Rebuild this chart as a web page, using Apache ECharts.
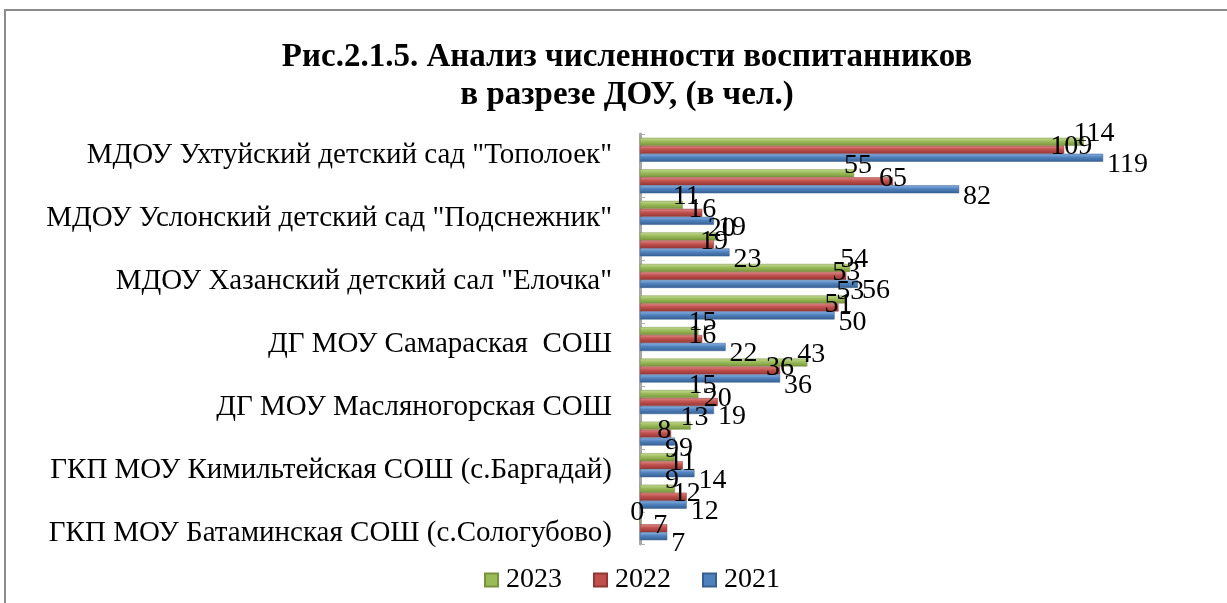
<!DOCTYPE html>
<html><head><meta charset="utf-8">
<script src="https://cdn.jsdelivr.net/npm/echarts@6/dist/echarts.min.js"></script>
<style>html,body{margin:0;padding:0;background:#fff}#c{width:1227px;height:603px}</style>
</head><body><div id="c"></div>
<script>
// categories, top to bottom (every other label is hidden, as in the original)
const categories = [
  'МДОУ Ухтуйский детский сад "Тополоек"', '',
  'МДОУ Услонский детский сад "Подснежник"', '',
  'МДОУ Хазанский детский сал "Елочка"', '',
  'ДГ МОУ Самараская  СОШ', '',
  'ДГ МОУ Масляногорская СОШ', '',
  'ГКП МОУ Кимильтейская СОШ (с.Баргадай)', '',
  'ГКП МОУ Батаминская СОШ (с.Сологубово)'
];
const seriesNames = ['2023', '2022', '2021'];
const v2023 = [114, 55, 11, 20, 54, 53, 15, 43, 15, 13, 9, 9, 0];
const v2022 = [109, 65, 16, 19, 53, 51, 16, 36, 20, 8, 11, 12, 7];
const v2021 = [119, 82, 19, 23, 56, 50, 22, 36, 19, 9, 14, 12, 7];
const titleText = 'Рис.2.1.5. Анализ численности воспитанников\nв разрезе ДОУ, (в чел.)';

const FONT = '"Liberation Serif", "Times New Roman", serif';
const colors = [
  { base: '#9BBB59', light: '#C5DA98', dark: '#77933C' },
  { base: '#C0504D', light: '#DE8A88', dark: '#943634' },
  { base: '#4F81BD', light: '#8DB3E2', dark: '#365F91' }
];
function grad(c) {
  return new echarts.graphic.LinearGradient(0, 0, 0, 1, [
    { offset: 0, color: c.light },
    { offset: 0.45, color: c.base },
    { offset: 1, color: c.dark }
  ]);
}
const labelOffsets = [[-12, -8], [-16, -3], [2, 7]];
const values = [v2023, v2022, v2021];

const chart = echarts.init(document.getElementById('c'), null, { renderer: 'canvas' });
chart.setOption({
  animation: false,
  backgroundColor: '#fff',
  title: {
    text: titleText,
    left: 622, top: 33, textAlign: 'center',
    textStyle: { fontFamily: FONT, fontWeight: 'bold', fontSize: 33, lineHeight: 38, color: '#000' }
  },
  graphic: [{
    type: 'rect', silent: true, z: -1,
    shape: { x: 5, y: 10, width: 1260, height: 640 },
    style: { fill: 'none', stroke: '#8c8c8c', lineWidth: 2 }
  }],
  legend: {
    top: 566, left: 484, padding: 0,
    itemWidth: 13, itemHeight: 13, itemGap: 31,
    icon: 'rect',
    textStyle: { fontFamily: FONT, fontSize: 28, color: '#000', padding: [0, 0, 0, 3] },
    data: seriesNames.map((n, i) => ({ name: n, itemStyle: { color: colors[i].base } }))
  },
  grid: { left: 640, right: 120, top: 134, bottom: 59, containLabel: false },
  xAxis: {
    type: 'value', min: 0, max: 120, show: false
  },
  yAxis: {
    type: 'category', inverse: true, data: categories,
    axisLine: { show: true, lineStyle: { color: '#a6a6a6', width: 3 } },
    axisTick: { show: true, inside: true, length: 5, lineStyle: { color: '#b0b0b0' } },
    axisLabel: {
      interval: 1, margin: 28, verticalAlign: 'top', lineHeight: 11,
      fontFamily: FONT, fontSize: 29, color: '#000'
    }
  },
  series: seriesNames.map((n, i) => ({
    name: n, type: 'bar',
    data: values[i],
    barGap: '0%', barCategoryGap: '24%',
    itemStyle: { color: grad(colors[i]), borderColor: colors[i].dark, borderWidth: 0.5 },
    label: {
      show: true, position: 'right', distance: 2, offset: labelOffsets[i],
      fontFamily: FONT, fontSize: 28, color: '#000'
    }
  }))
});
</script></body></html>
